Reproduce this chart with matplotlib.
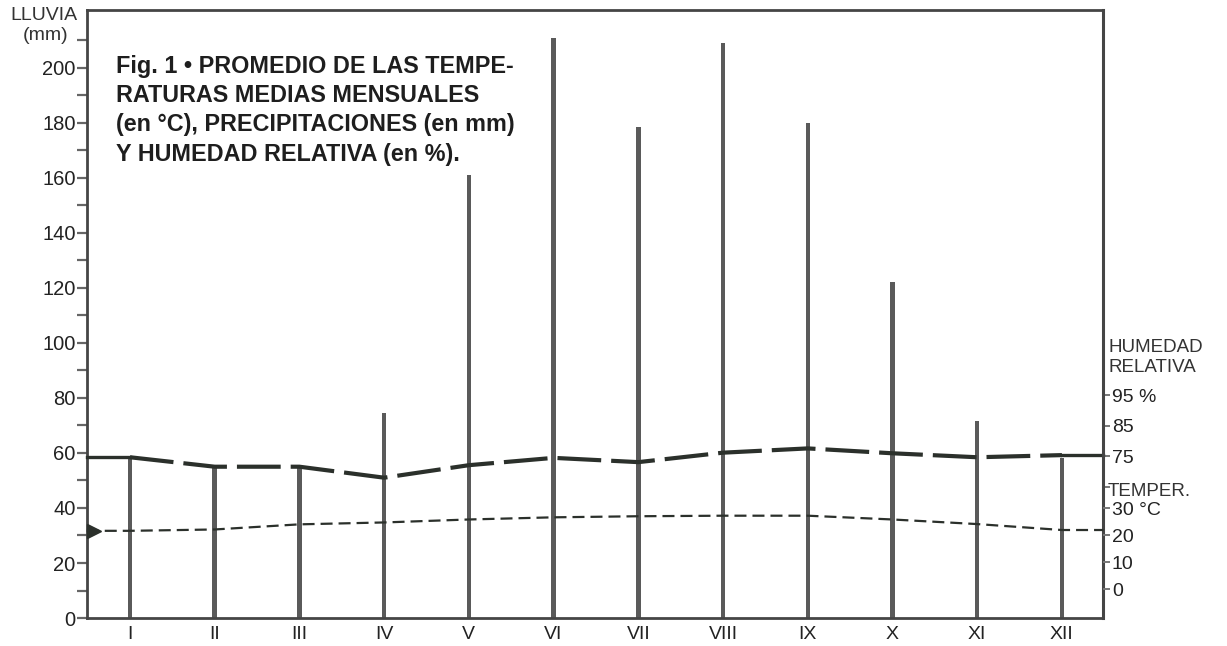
import matplotlib
matplotlib.use("Agg")
import matplotlib.pyplot as plt

plt.rcParams['font.family'] = ['Liberation Sans', 'DejaVu Sans']

# monthly data
months = ['I', 'II', 'III', 'IV', 'V', 'VI', 'VII', 'VIII', 'IX', 'X', 'XI', 'XII']
rain_mm = [58, 55, 55, 74.5, 161, 211, 178.5, 209, 180, 122, 71.5, 58]
humidity = [74.6, 71.5, 71.5, 67.9, 72.0, 74.4, 73.0, 76.1, 77.5, 75.9, 74.6, 75.3]
temperature = [21.7, 22.2, 24.1, 24.8, 25.9, 26.7, 27.1, 27.3, 27.3, 25.9, 24.2, 22.0]

rain_ticks = list(range(0, 201, 20))
rain_minor = list(range(10, 211, 20))
hum_ticks = [65, 75, 85, 95]
hum_labels = ['', '75', '85', '95 %']
temp_ticks = [0, 10, 20, 30]
temp_labels = ['0', '10', '20', '30 °C']

title_lines = ['Fig. 1 • PROMEDIO DE LAS TEMPE-',
               'RATURAS MEDIAS MENSUALES',
               '(en °C), PRECIPITACIONES (en mm)',
               'Y HUMEDAD RELATIVA (en %).']

ink = '#2b302b'
spine_col = '#454545'
bar_col = '#5a5a5a'

fig = plt.figure(figsize=(12.27, 6.46), dpi=100)
ax = fig.add_axes([0.0707, 0.0433, 0.8286, 0.9412])
x = list(range(1, 13))
x0, x1 = 0.49, 12.49

ax.bar(x, rain_mm, width=0.052, color=bar_col, zorder=2)
ax.set_xlim(x0, x1)
ax.set_ylim(0, 221)
ax.set_yticks(rain_ticks)
ax.set_yticks(rain_minor, minor=True)
ax.set_xticks(x)
ax.set_xticklabels(months)
ax.tick_params(axis='y', which='both', direction='out', length=7, width=1.6,
               color='#666666', labelsize=14.5, pad=1, labelcolor='#222222')
ax.tick_params(axis='x', length=0, labelsize=14, pad=6, labelcolor='#222222')
for side in ['left', 'bottom', 'top']:
    ax.spines[side].set_color(spine_col)
    ax.spines[side].set_linewidth(2)
ax.spines['right'].set_visible(False)

for i, line in enumerate(title_lines):
    ax.text(0.83, 198.1 - i * 10.6, line, fontsize=16.8, fontweight='bold',
            color='#1e1e1e', va='baseline', ha='left')

# humidity on its own scale (right)
ax_h = ax.twinx()
ax_h.set_ylim(21.9, 221.2)
ax_h.set_xlim(x0, x1)
ax_h.plot(x, humidity, color=ink, lw=3.0, linestyle=(0, (10.5, 2.4)),
          solid_capstyle='butt', dash_capstyle='butt')
ax_h.plot([x0, x[0]], [humidity[0], humidity[0]], color=ink, lw=2.4, clip_on=False)
ax_h.plot([x[-1], x1], [humidity[-1], humidity[-1]], color=ink, lw=2.4, clip_on=False)
ax_h.set_yticks(hum_ticks)
ax_h.set_yticklabels(hum_labels)
ax_h.tick_params(axis='y', direction='out', length=5, width=1.4, color='#777777',
                 labelsize=14, pad=1, labelcolor='#222222')
for side in ['left', 'bottom', 'top']:
    ax_h.spines[side].set_visible(False)
ax_h.spines['right'].set_color(spine_col)
ax_h.spines['right'].set_linewidth(2.2)

# temperature on its own scale (right)
ax_t = ax.twinx()
ax_t.set_ylim(-10.6, 214.6)
ax_t.set_xlim(x0, x1)
tx = [x0] + x + [x1]
ty = [temperature[0]] + temperature + [temperature[-1]]
ax_t.plot(tx, ty, color=ink, lw=1.6, linestyle=(0, (5.4, 2.7)), clip_on=False)
ax_t.plot([x0 + 0.08], [temperature[0]], marker='>', color=ink, markersize=10,
          clip_on=False)
ax_t.set_yticks(temp_ticks)
ax_t.set_yticklabels(temp_labels)
ax_t.tick_params(axis='y', direction='out', length=5, width=1.4, color='#777777',
                 labelsize=14, pad=1, labelcolor='#222222')
for side in ['left', 'bottom', 'top', 'right']:
    ax_t.spines[side].set_visible(False)

# axis captions
fig.text(44 / 1227, 1 - 16 / 646, 'LLUVIA', ha='center', va='center',
         fontsize=14, color='#333333')
fig.text(46 / 1227, 1 - 36 / 646, '(mm)', ha='center', va='center',
         fontsize=14, color='#333333')
fig.text(1108 / 1227, 1 - 348 / 646, 'HUMEDAD', ha='left', va='center',
         fontsize=13.5, color='#333333')
fig.text(1108 / 1227, 1 - 368 / 646, 'RELATIVA', ha='left', va='center',
         fontsize=13.5, color='#333333')
fig.text(1108 / 1227, 1 - 491 / 646, 'TEMPER.', ha='left', va='center',
         fontsize=13.5, color='#333333')

fig.savefig('out.png', dpi=100, facecolor='white')
